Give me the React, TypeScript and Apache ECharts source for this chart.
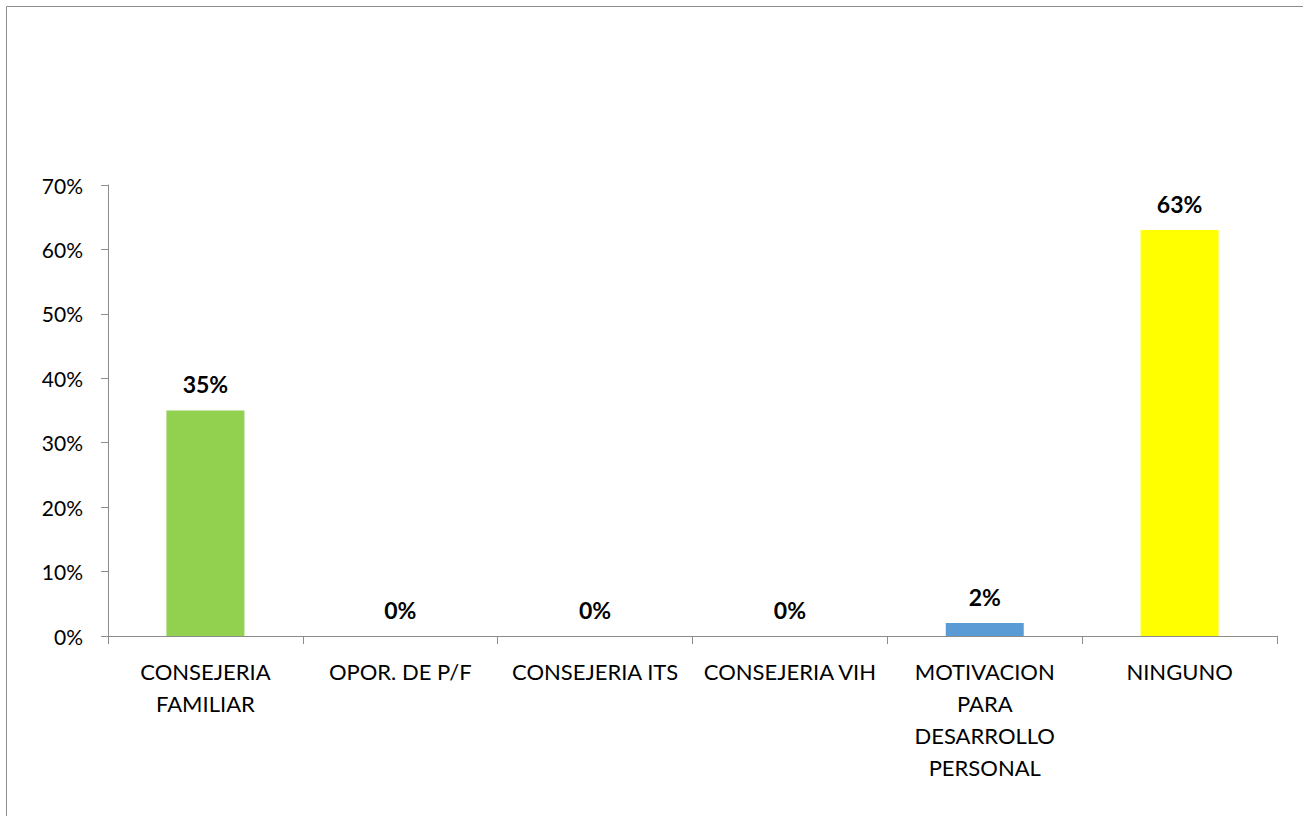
import React, { useEffect, useRef } from "react";
import * as echarts from "echarts";

const categories = [
  "CONSEJERIA\nFAMILIAR",
  "OPOR. DE P/F",
  "CONSEJERIA ITS",
  "CONSEJERIA VIH",
  "MOTIVACION\nPARA\nDESARROLLO\nPERSONAL",
  "NINGUNO",
];
const values = [35, 0, 0, 0, 2, 63];
const barColors = ["#92D050", "#5B9BD5", "#5B9BD5", "#5B9BD5", "#5B9BD5", "#FFFF00"];

const FONT = "Lato, 'Open Sans', sans-serif";

export default function App() {
  const ref = useRef<HTMLDivElement>(null);
  useEffect(() => {
    if (!ref.current) return;
    const chart = echarts.init(ref.current, undefined, { renderer: "svg" });
    chart.setOption({
      animation: false,
      backgroundColor: "#ffffff",
      graphic: [
        {
          type: "rect",
          shape: { x: 6.5, y: 6.5, width: 1330, height: 840 },
          style: { fill: "none", stroke: "#8c8c8c", lineWidth: 1 },
          silent: true,
        },
      ],
      grid: { left: 108, right: 26, top: 185, bottom: 180, containLabel: false },
      xAxis: {
        type: "category",
        data: categories,
        boundaryGap: true,
        axisLine: { show: true, lineStyle: { color: "#8c8c8c", width: 1 } },
        axisTick: { show: true, interval: 0, length: 8, lineStyle: { color: "#8c8c8c" } },
        axisLabel: {
          interval: 0,
          margin: 19,
          color: "#000",
          fontFamily: FONT,
          fontSize: 22,
          lineHeight: 32,
        },
        splitLine: { show: false },
      },
      yAxis: {
        type: "value",
        min: 0,
        max: 70,
        interval: 10,
        axisLine: { show: true, lineStyle: { color: "#8c8c8c", width: 1 } },
        axisTick: { show: true, length: 7, lineStyle: { color: "#8c8c8c" } },
        axisLabel: {
          margin: 25,
          color: "#000",
          fontFamily: FONT,
          fontSize: 21,
          formatter: (v: number) => v + "%",
        },
        splitLine: { show: false },
      },
      series: [
        {
          type: "bar",
          barWidth: 78,
          data: values.map((v, i) => ({ value: v, itemStyle: { color: barColors[i] } })),
          label: {
            show: true,
            position: "top",
            distance: 15,
            color: "#000",
            fontFamily: FONT,
            fontWeight: "bold",
            fontSize: 23,
            formatter: (p: any) => p.value + "%",
          },
        },
      ],
    });
    return () => chart.dispose();
  }, []);
  return (
    <div
      ref={ref}
      style={{ position: "fixed", left: 0, top: 0, width: 1303, height: 816, background: "#fff" }}
    />
  );
}
